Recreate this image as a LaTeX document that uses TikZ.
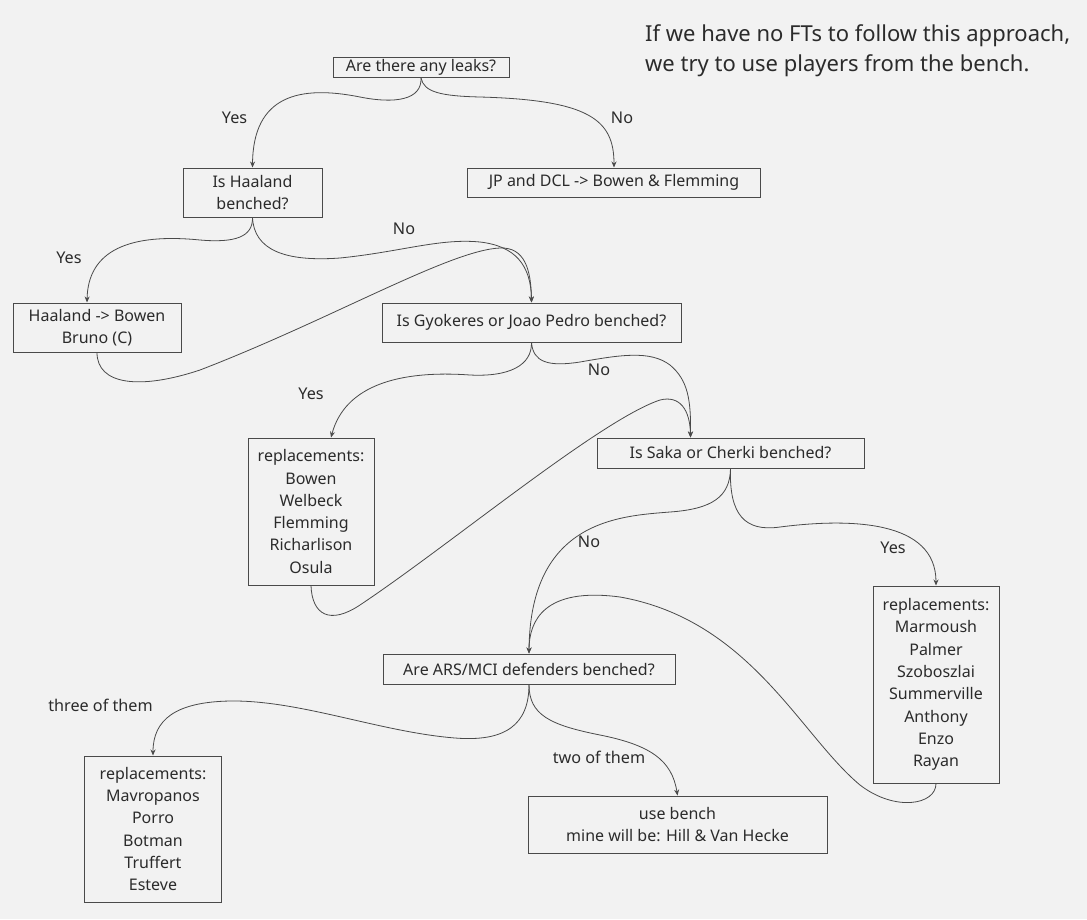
\documentclass[tikz,border=0pt]{standalone}
\usepackage{fontspec}
\setmainfont{Noto Sans}
\usetikzlibrary{arrows.meta}
\definecolor{bgcol}{HTML}{F2F2F2}
\definecolor{inkcol}{HTML}{2B2B2B}
\definecolor{linecol}{HTML}{4A4A4A}
\tikzset{
  box/.style={draw=linecol, line width=1pt, align=center, inner sep=0pt, text=inkcol,
    font=\fontsize{16}{22.3}\selectfont},
  link/.style={draw=linecol, line width=0.8pt, -{Stealth[length=6pt,width=5pt]}},
  tag/.style={text=inkcol, inner sep=0pt, font=\fontsize{16.2}{19}\selectfont}
}
\begin{document}
\begin{tikzpicture}[x=1pt, y=-1pt]
    \fill[bgcol] (0,0) rectangle (1087,919);
    \useasboundingbox (0,0) rectangle (1087,919);
    \node[text=inkcol, align=left, anchor=west, inner sep=0pt, font=\fontsize{22}{30}\selectfont] (note) at (645,51)
      {If we have no FTs to follow this approach,\\we try to use players from the bench.};
    \node[box, minimum width=176pt, minimum height=20pt] (leaks) at (421,67.5) {Are there any leaks?};
    \node[box, minimum width=139pt, minimum height=49pt] (haal) at (252.5,192.5) {Is Haaland\\benched?};
    \node[box, minimum width=293pt, minimum height=29pt] (jp) at (614,182.5) {JP and DCL -> Bowen \& Flemming};
    \node[box, minimum width=168pt, minimum height=49pt] (hb) at (97,327.5) {Haaland -> Bowen\\Bruno (C)};
    \node[box, minimum width=299pt, minimum height=39pt] (gyok) at (531.5,322.5) {Is Gyokeres or Joao Pedro benched?};
    \node[box, minimum width=267pt, minimum height=30pt] (saka) at (730.5,453) {Is Saka or Cherki benched?};
    \node[box, minimum width=126pt, minimum height=147pt] (fwd) at (311,511.5)
      {replacements:\\Bowen\\Welbeck\\Flemming\\Richarlison\\Osula};
    \node[box, minimum width=126pt, minimum height=197pt] (mid) at (936,684.5)
      {replacements:\\Marmoush\\Palmer\\Szoboszlai\\Summerville\\Anthony\\Enzo\\Rayan};
    \node[box, minimum width=292pt, minimum height=30pt] (ars) at (529,669) {Are ARS/MCI defenders benched?};
    \node[box, minimum width=137pt, minimum height=146pt] (def) at (153,829)
      {replacements:\\Mavropanos\\Porro\\Botman\\Truffert\\Esteve};
    \node[box, minimum width=299pt, minimum height=57pt] (bench) at (677.5,824.5) {use bench\\mine will be: Hill \& Van Hecke};

    \draw[link] (leaks.south) .. controls (422,100) and (395,104) .. (360,97)
      .. controls (300,85) and (253,95) .. (haal.north);
    \draw[link] (leaks.south) .. controls (424,92) and (440,96) .. (480,97)
      .. controls (590,100) and (614,120) .. (jp.north);
    \draw[link] (haal.south) .. controls (253,237) and (235,243) .. (200,240)
      .. controls (130,233) and (88,250) .. ([xshift=-10pt]hb.north);
    \draw[link] (haal.south) .. controls (254,250) and (285,262) .. (340,258)
      .. controls (400,252) and (440,238) .. (480,242)
      .. controls (515,246) and (531,265) .. (gyok.north);
    \draw[link] (hb.south) .. controls (97,385) and (140,390) .. (200,370)
      .. controls (330,320) and (450,250) .. (500,248)
      .. controls (525,247) and (531,270) .. (gyok.north);
    \draw[link] (gyok.south) .. controls (532,365) and (510,377) .. (470,375)
      .. controls (400,370) and (345,385) .. ([xshift=20pt]fwd.north);
    \draw[link] (gyok.south) .. controls (533,362) and (548,367) .. (580,362)
      .. controls (620,355) and (650,350) .. (670,365)
      .. controls (688,380) and (691,400) .. ([xshift=-40pt]saka.north);
    \draw[link] (fwd.south) .. controls (312,615) and (330,625) .. (360,605)
      .. controls (450,545) and (600,420) .. (660,400)
      .. controls (680,395) and (690,410) .. ([xshift=-40pt]saka.north);
    \draw[link] (saka.south) .. controls (730,497) and (712,509) .. (670,512)
      .. controls (620,516) and (530,520) .. (ars.north);
    \draw[link] (saka.south) .. controls (729,515) and (745,532) .. (780,527)
      .. controls (850,518) and (936,520) .. (mid.north);
    \draw[link] (mid.south) .. controls (936,805) and (895,812) .. (860,785)
      .. controls (800,735) and (750,620) .. (620,597)
      .. controls (545,587) and (529,620) .. (ars.north);
    \draw[link] (ars.south) .. controls (529,725) and (505,742) .. (455,738)
      .. controls (380,732) and (300,700) .. (230,701)
      .. controls (175,702) and (153,720) .. (def.north);
    \draw[link] (ars.south) .. controls (529,715) and (550,725) .. (600,735)
      .. controls (650,745) and (672,760) .. (bench.north);

    \node[tag] (yes1) at (234.5,117.5) {Yes};
    \node[tag] (no1) at (622,118) {No};
    \node[tag] (yes2) at (69,258) {Yes};
    \node[tag] (no2) at (404,229) {No};
    \node[tag] (yes3) at (311,394) {Yes};
    \node[tag] (no3) at (599,370) {No};
    \node[tag] (no4) at (589,542) {No};
    \node[tag] (yes4) at (893,548) {Yes};
    \node[tag] (three) at (100.5,705) {three of them};
    \node[tag] (two) at (599,757) {two of them};
  \end{tikzpicture}
\end{document}
